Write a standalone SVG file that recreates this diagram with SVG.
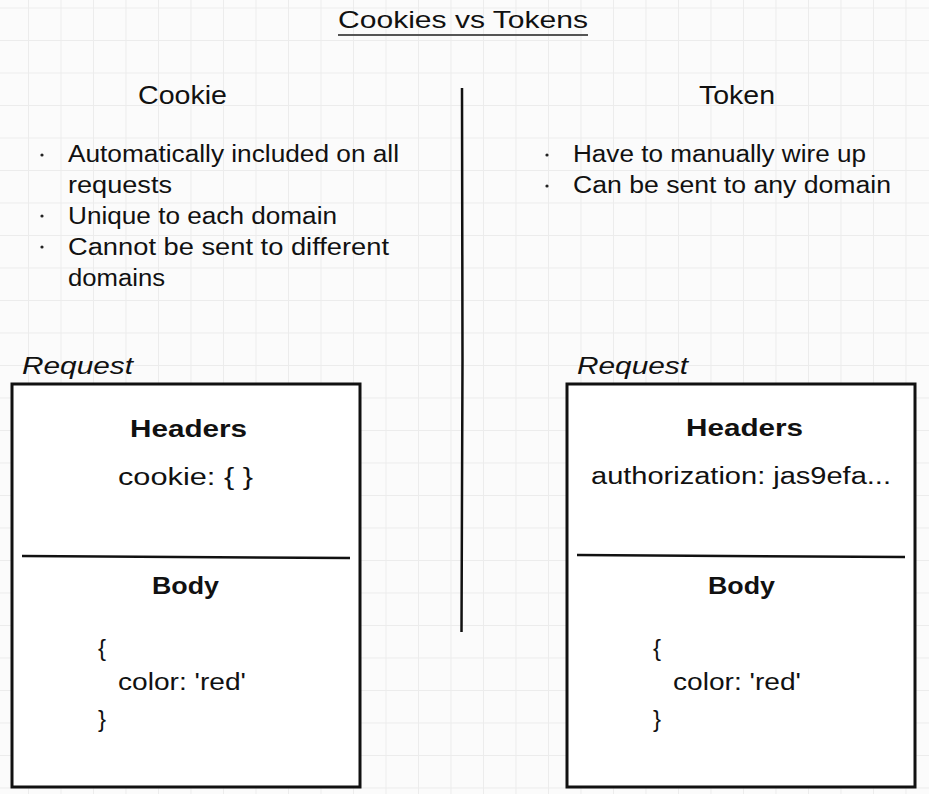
<svg xmlns="http://www.w3.org/2000/svg" width="929" height="794" viewBox="0 0 929 794">
  <defs>
    <pattern id="grid" x="28" y="7.5" width="32.5" height="32.5" patternUnits="userSpaceOnUse">
      <path d="M0 0 V32.5 M0 0 H32.5" fill="none" stroke="#ececec" stroke-width="2"/>
    </pattern>
    <style>
      .sans { font-family: "Liberation Sans", Arial, sans-serif; fill: #111; }
      .geo { font-family: "Liberation Sans", Arial, sans-serif; fill: #111; font-size: 23px; }
      .bold { font-weight: bold; }
      .box { fill: #fff; stroke: #111; stroke-width: 3; }
      .sep { stroke: #111; stroke-width: 2.5; fill: none; }
      .dot { fill: #222; }
    </style>
  </defs>
  <rect width="929" height="794" fill="#fbfbfb"/>
  <rect width="929" height="794" fill="url(#grid)"/>

  <g id="title">
    <text class="sans" x="338" y="28" font-size="24" textLength="250" lengthAdjust="spacingAndGlyphs">Cookies vs Tokens</text>
    <line x1="338" y1="35" x2="588" y2="35" stroke="#555" stroke-width="2"/>
  </g>

  <g id="divider">
    <path class="sep" d="M462 88 L462.5 360 L461.5 632" stroke-width="3"/>
  </g>

  <g id="cookie-col">
    <text class="sans" x="138" y="104" font-size="25" textLength="89" lengthAdjust="spacingAndGlyphs">Cookie</text>
    <circle class="dot" cx="42" cy="155" r="1.6"/>
    <circle class="dot" cx="42" cy="216" r="1.6"/>
    <circle class="dot" cx="42" cy="247" r="1.6"/>
    <text class="geo" x="68" y="162" textLength="331" lengthAdjust="spacingAndGlyphs">Automatically included on all</text>
    <text class="geo" x="68" y="193" textLength="104" lengthAdjust="spacingAndGlyphs">requests</text>
    <text class="geo" x="68" y="224" textLength="269" lengthAdjust="spacingAndGlyphs">Unique to each domain</text>
    <text class="geo" x="68" y="255" textLength="321" lengthAdjust="spacingAndGlyphs">Cannot be sent to different</text>
    <text class="geo" x="68" y="286" textLength="97" lengthAdjust="spacingAndGlyphs">domains</text>
  </g>

  <g id="token-col">
    <text class="sans" x="699" y="104" font-size="25" textLength="76" lengthAdjust="spacingAndGlyphs">Token</text>
    <circle class="dot" cx="547" cy="155" r="1.6"/>
    <circle class="dot" cx="547" cy="186" r="1.6"/>
    <text class="geo" x="573" y="162" textLength="293" lengthAdjust="spacingAndGlyphs">Have to manually wire up</text>
    <text class="geo" x="573" y="193" textLength="318" lengthAdjust="spacingAndGlyphs">Can be sent to any domain</text>
  </g>

  <g id="cookie-request">
    <text class="sans" x="22" y="374" font-size="23" font-style="italic" textLength="111" lengthAdjust="spacingAndGlyphs">Request</text>
    <rect class="box" x="12" y="384" width="348" height="403"/>
    <line class="sep" x1="22" y1="556" x2="350" y2="558"/>
    <text class="geo bold" x="130" y="437" textLength="117" lengthAdjust="spacingAndGlyphs">Headers</text>
    <text class="geo" x="118" y="485" textLength="135" lengthAdjust="spacingAndGlyphs">cookie: { }</text>
    <text class="sans bold" x="152" y="594" font-size="23" textLength="67" lengthAdjust="spacingAndGlyphs">Body</text>
    <text class="sans" x="98" y="656" font-size="24">{</text>
    <text class="sans" x="118" y="690" font-size="23" textLength="128" lengthAdjust="spacingAndGlyphs">color: 'red'</text>
    <text class="sans" x="98" y="727" font-size="24">}</text>
  </g>

  <g id="token-request">
    <text class="sans" x="577" y="374" font-size="23" font-style="italic" textLength="111" lengthAdjust="spacingAndGlyphs">Request</text>
    <rect class="box" x="567" y="384" width="348" height="403"/>
    <line class="sep" x1="577" y1="555" x2="905" y2="557"/>
    <text class="geo bold" x="686" y="436" textLength="117" lengthAdjust="spacingAndGlyphs">Headers</text>
    <text class="geo" x="591" y="484" textLength="300" lengthAdjust="spacingAndGlyphs">authorization: jas9efa...</text>
    <text class="sans bold" x="708" y="594" font-size="23" textLength="67" lengthAdjust="spacingAndGlyphs">Body</text>
    <text class="sans" x="653" y="656" font-size="24">{</text>
    <text class="sans" x="673" y="690" font-size="23" textLength="128" lengthAdjust="spacingAndGlyphs">color: 'red'</text>
    <text class="sans" x="653" y="727" font-size="24">}</text>
  </g>
</svg>
